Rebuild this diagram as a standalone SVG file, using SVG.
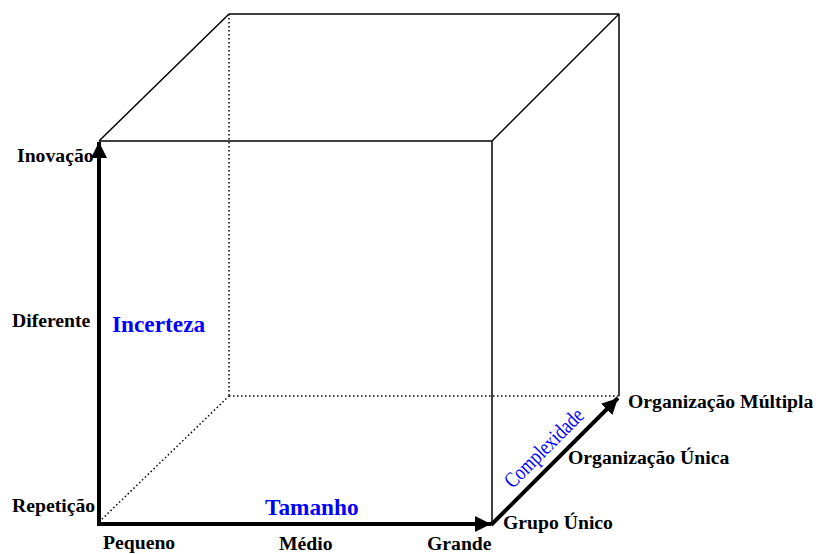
<svg xmlns="http://www.w3.org/2000/svg" width="816" height="554" viewBox="0 0 816 554">
  <style>
    .edge { fill: none; stroke: #000; stroke-width: 1.5; }
    .hidden { fill: none; stroke: #000; stroke-width: 1.5; stroke-dasharray: 1.5 2.5; }
    .axis { fill: none; stroke: #000; stroke-width: 4; }
    .lbl { font-family: "Liberation Serif", "Times New Roman", serif; font-weight: bold; font-size: 19.7px; fill: #000; }
    .title { font-family: "Liberation Serif", "Times New Roman", serif; font-weight: bold; font-size: 23.3px; fill: #0000ff; }
    .diag { font-family: "Liberation Serif", "Times New Roman", serif; font-size: 22px; fill: #0000ff; }
  </style>
  <defs>
    <marker id="head" markerWidth="4" markerHeight="4" refX="4" refY="2" orient="auto" markerUnits="strokeWidth">
      <path d="M0,0 L4,2 L0,4 Z" fill="#000"/>
    </marker>
  </defs>
  <rect width="816" height="554" fill="#fff"/>

  <!-- cube wireframe -->
  <g id="cube">
    <!-- hidden back edges -->
    <line class="hidden" x1="229" y1="14" x2="229" y2="396"/>
    <line class="hidden" x1="229" y1="396" x2="619" y2="396"/>
    <line class="hidden" x1="99" y1="522" x2="229" y2="396"/>
    <!-- visible edges -->
    <line class="edge" x1="99" y1="141" x2="229" y2="14"/>
    <line class="edge" x1="229" y1="14" x2="619" y2="14"/>
    <line class="edge" x1="492" y1="141" x2="619" y2="14"/>
    <line class="edge" x1="619" y1="14" x2="619" y2="396"/>
    <line class="edge" x1="99" y1="141" x2="492" y2="141"/>
    <line class="edge" x1="492" y1="141" x2="492" y2="524"/>
  </g>

  <!-- axes -->
  <g id="connectors">
    <line id="axis-incerteza" class="axis" x1="99" y1="526" x2="99" y2="142" marker-end="url(#head)"/>
    <line id="axis-tamanho" class="axis" x1="97" y1="524" x2="491" y2="524" marker-end="url(#head)"/>
    <line id="axis-complexidade" class="axis" x1="491" y1="525" x2="618" y2="398" marker-end="url(#head)"/>
  </g>

  <!-- vertical axis labels -->
  <g id="incerteza-labels">
    <text class="lbl" x="17" y="162">Inovação</text>
    <text class="lbl" x="12" y="327">Diferente</text>
    <text class="lbl" x="12" y="512">Repetição</text>
    <text class="title" x="112" y="332">Incerteza</text>
  </g>

  <!-- horizontal axis labels -->
  <g id="tamanho-labels">
    <text class="lbl" x="103" y="549">Pequeno</text>
    <text class="lbl" x="279" y="550">Médio</text>
    <text class="lbl" x="427" y="550">Grande</text>
    <text class="title" x="265" y="515">Tamanho</text>
  </g>

  <!-- depth axis labels -->
  <g id="complexidade-labels">
    <text class="lbl" x="503" y="529">Grupo Único</text>
    <text class="lbl" x="568" y="464">Organização Única</text>
    <text class="lbl" x="628" y="408">Organização Múltipla</text>
    <text class="diag" transform="translate(549,453) rotate(-45) scale(0.8,1)" text-anchor="middle">Complexidade</text>
  </g>
</svg>
